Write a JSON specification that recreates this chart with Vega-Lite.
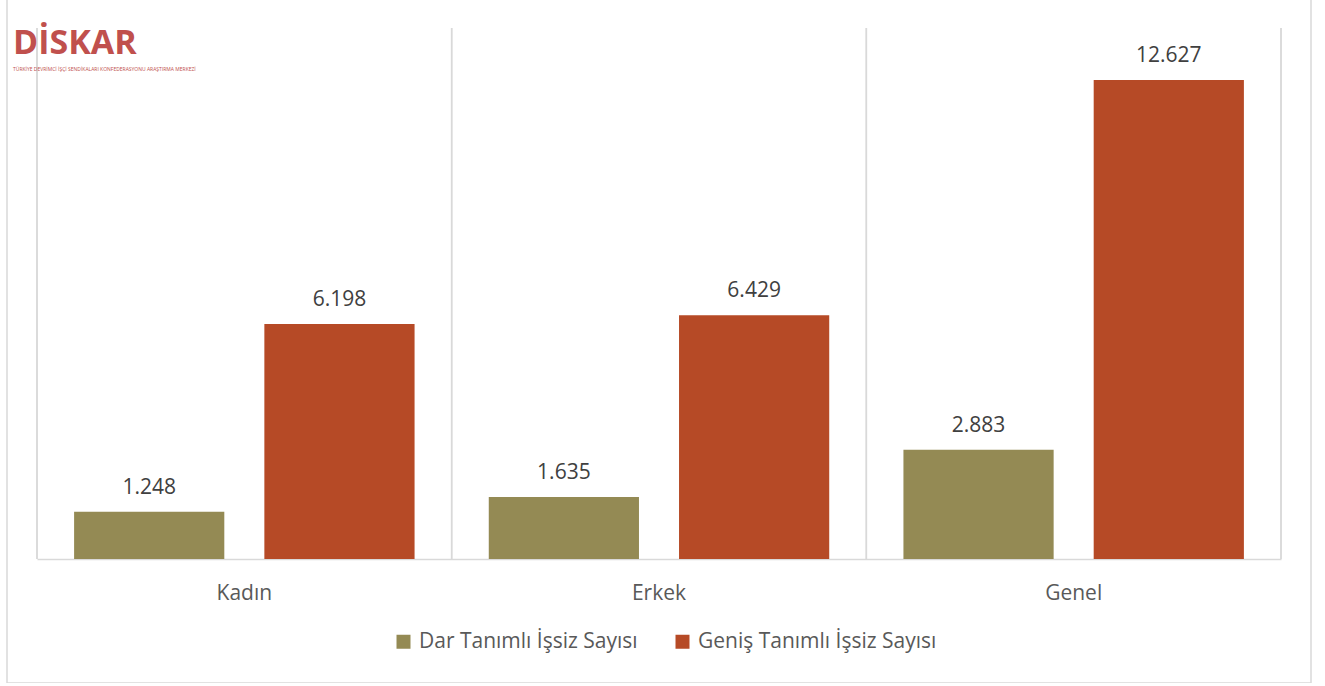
{
  "$schema": "https://vega.github.io/schema/vega-lite/v6.json",
  "width": 1304,
  "height": 685,
  "autosize": {"type": "none"},
  "padding": {"left": 7, "top": -2, "right": 14, "bottom": 0},
  "background": "white",
  "config": {
    "view": {"stroke": "#D9D9D9", "strokeWidth": 1.5},
    "font": "Open Sans"
  },
  "title": {
    "text": "DİSKAR",
    "subtitle": "TÜRKİYE DEVRİMCİ İŞÇİ SENDİKALARI KONFEDERASYONU ARAŞTIRMA MERKEZİ",
    "anchor": "start",
    "frame": "group",
    "orient": "top",
    "offset": -74,
    "dx": 6,
    "fontSize": 34,
    "fontWeight": "bold",
    "color": "#C0504D",
    "subtitleFontSize": 5,
    "subtitleColor": "#C0504D",
    "subtitlePadding": 6
  },
  "data": {
    "values": [
      {"Kategori": "Kadın", "Seri": "Dar Tanımlı İşsiz Sayısı", "Deger": 1.248},
      {"Kategori": "Kadın", "Seri": "Geniş Tanımlı İşsiz Sayısı", "Deger": 6.198},
      {"Kategori": "Erkek", "Seri": "Dar Tanımlı İşsiz Sayısı", "Deger": 1.635},
      {"Kategori": "Erkek", "Seri": "Geniş Tanımlı İşsiz Sayısı", "Deger": 6.429},
      {"Kategori": "Genel", "Seri": "Dar Tanımlı İşsiz Sayısı", "Deger": 2.883},
      {"Kategori": "Genel", "Seri": "Geniş Tanımlı İşsiz Sayısı", "Deger": 12.627}
    ]
  },
  "layer": [
    {
      "mark": {"type": "rule", "color": "#D9D9D9", "strokeWidth": 1.5},
      "encoding": {
        "x": {"field": "Kategori", "type": "nominal", "bandPosition": 0, "sort": ["Kadın", "Erkek", "Genel"],
              "scale": {"range": [30, 1274], "paddingInner": 0, "paddingOuter": 0},
              "axis": {"title": null, "ticks": false, "labelAngle": 0, "labelFontSize": 21, "labelColor": "#595959", "labelPadding": 40, "labelBaseline": "alphabetic", "domainColor": "#D9D9D9", "domainWidth": 1.5, "offset": -124, "grid": false}},
        "y": {"datum": 0, "type": "quantitative", "scale": {"domain": [0, 14], "range": [561, 30], "nice": false}, "axis": null},
        "y2": {"datum": 14}
      }
    },
    {
      "transform": [{"filter": "datum.Kategori === 'Genel'"}],
      "mark": {"type": "rule", "color": "#D9D9D9", "strokeWidth": 1.5},
      "encoding": {
        "x": {"field": "Kategori", "type": "nominal", "bandPosition": 1, "sort": ["Kadın", "Erkek", "Genel"],
              "axis": {"title": null, "ticks": false, "labelAngle": 0, "labelFontSize": 21, "labelColor": "#595959", "labelPadding": 40, "labelBaseline": "alphabetic", "domainColor": "#D9D9D9", "domainWidth": 1.5, "offset": -124, "grid": false}},
        "y": {"datum": 0, "type": "quantitative"},
        "y2": {"datum": 14}
      }
    },
    {
      "mark": {"type": "bar"},
      "encoding": {
        "x": {"field": "Kategori", "type": "nominal", "sort": ["Kadın", "Erkek", "Genel"],
              "axis": {"title": null, "ticks": false, "labelAngle": 0, "labelFontSize": 21, "labelColor": "#595959", "labelPadding": 40, "labelBaseline": "alphabetic", "domainColor": "#D9D9D9", "domainWidth": 1.5, "offset": -124, "grid": false}},
        "xOffset": {"field": "Seri", "type": "nominal", "scale": {"paddingInner": 0.2105, "paddingOuter": 0.195}},
        "y": {"field": "Deger", "type": "quantitative"},
        "color": {"field": "Seri", "type": "nominal",
                  "scale": {"domain": ["Dar Tanımlı İşsiz Sayısı", "Geniş Tanımlı İşsiz Sayısı"], "range": ["#948A54", "#B64A26"]},
                  "legend": {"orient": "none", "legendX": 386, "legendY": 633, "direction": "horizontal", "title": null,
                             "symbolType": "square", "symbolSize": 196, "symbolStrokeWidth": 0, "labelFontSize": 21,
                             "labelColor": "#595959", "labelOffset": 5, "columnPadding": 34, "labelLimit": 400}}
      }
    },
    {
      "mark": {"type": "text", "dy": -18, "baseline": "alphabetic", "fontSize": 21, "color": "#404040"},
      "encoding": {
        "x": {"field": "Kategori", "type": "nominal", "sort": ["Kadın", "Erkek", "Genel"],
              "axis": {"title": null, "ticks": false, "labelAngle": 0, "labelFontSize": 21, "labelColor": "#595959", "labelPadding": 40, "labelBaseline": "alphabetic", "domainColor": "#D9D9D9", "domainWidth": 1.5, "offset": -124, "grid": false}},
        "xOffset": {"field": "Seri", "type": "nominal"},
        "y": {"field": "Deger", "type": "quantitative"},
        "text": {"field": "Deger", "type": "quantitative", "format": ".3f"}
      }
    }
  ]
}
